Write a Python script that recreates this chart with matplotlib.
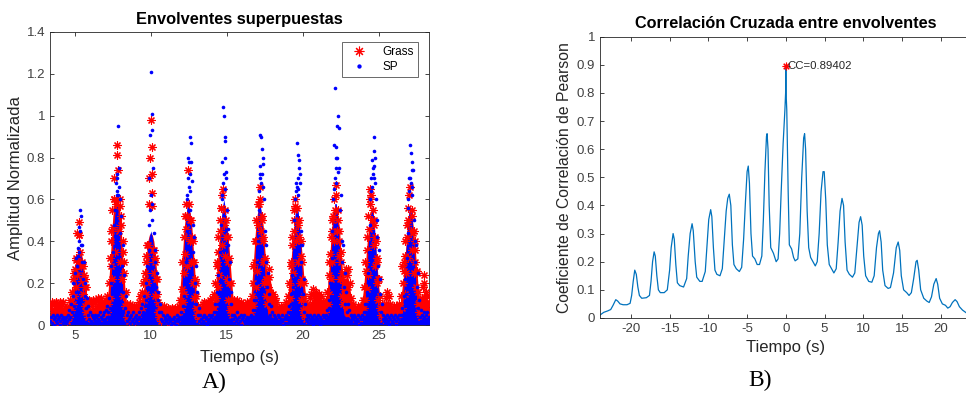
import numpy as np
import matplotlib.pyplot as plt

# envelope samples (x0.01), one row per second, starting at T0, FS samples/s
T0 = 3.40
FS = 20
grass_env = [
    9, 3, 11, 6, 10, 2, 8, 11, 5, 10, 7, 1, 11, 9, 4, 10, 6, 11, 3, 8,
    5, 8, 2, 6, 9, 4, 12, 7, 16, 10, 22, 14, 27, 18, 31, 24, 30, 43, 49, 35,
    28, 21, 30, 15, 24, 9, 18, 6, 12, 4, 9, 12, 5, 11, 3, 9, 12, 6, 11, 4,
    12, 8, 13, 5, 11, 9, 13, 3, 10, 7, 11, 4, 9, 12, 6, 14, 10, 20, 13, 28,
    40, 22, 47, 60, 70, 35, 58, 81, 86, 74, 45, 57, 30, 48, 22, 35, 14, 25, 9, 16,
    10, 4, 9, 2, 8, 10, 5, 9, 3, 7, 9, 2, 6, 9, 4, 8, 11, 6, 14, 9,
    16, 8, 20, 12, 25, 15, 33, 20, 38, 58, 70, 80, 98, 85, 63, 36, 25, 32, 14, 22,
    15, 6, 11, 4, 9, 7, 2, 8, 5, 9, 3, 7, 8, 2, 6, 8, 4, 7, 1, 6,
    8, 3, 7, 5, 8, 2, 6, 8, 4, 9, 6, 12, 8, 17, 11, 25, 15, 34, 46, 28,
    52, 74, 58, 40, 50, 30, 42, 20, 30, 13, 22, 8, 14, 5, 9, 3, 7, 8, 4, 7,
    10, 5, 11, 8, 3, 10, 7, 11, 4, 9, 12, 6, 10, 13, 7, 15, 10, 20, 13, 28,
    18, 35, 24, 45, 56, 38, 62, 65, 48, 55, 33, 42, 22, 30, 12, 20, 7, 12, 9, 5,
    10, 12, 6, 11, 3, 9, 12, 5, 10, 8, 11, 2, 8, 10, 5, 9, 3, 8, 11, 6,
    9, 4, 8, 11, 6, 14, 9, 20, 12, 30, 18, 40, 26, 48, 58, 60, 66, 45, 52, 30,
    40, 20, 32, 14, 22, 10, 18, 27, 23, 16, 8, 14, 6, 15, 10, 13, 5, 11, 8, 4,
    8, 3, 7, 9, 4, 8, 2, 7, 9, 5, 11, 7, 14, 10, 20, 13, 28, 18, 38, 25,
    45, 55, 60, 40, 56, 48, 30, 42, 20, 33, 12, 22, 7, 14, 5, 10, 3, 8, 10, 5,
    9, 13, 6, 15, 10, 17, 8, 14, 11, 16, 5, 13, 9, 15, 7, 12, 14, 4, 11, 8,
    10, 6, 12, 8, 16, 10, 24, 15, 34, 22, 45, 30, 52, 40, 55, 62, 67, 45, 50, 33,
    40, 22, 30, 14, 22, 10, 17, 20, 12, 27, 24, 18, 27, 12, 20, 8, 13, 5, 10, 7,
    4, 8, 3, 7, 9, 2, 6, 8, 4, 9, 6, 12, 8, 18, 12, 26, 17, 36, 24, 46,
    58, 65, 62, 50, 55, 38, 48, 28, 40, 20, 30, 12, 22, 8, 14, 5, 10, 7, 3, 8,
    6, 10, 13, 16, 9, 14, 5, 10, 7, 3, 8, 6, 9, 2, 7, 9, 4, 8, 10, 5,
    9, 14, 8, 28, 20, 26, 15, 33, 25, 42, 32, 50, 62, 66, 45, 55, 36, 44, 25, 40,
    30, 18, 25, 10, 16, 6, 12, 4, 9, 13, 18, 24, 20, 13, 16, 8, 14, 5, 11, 7,
]
sp_env = [
    2, 4, 1, 5, 3, 0, 4, 2, 5, 1, 3, 4, 0, 2, 5, 3, 1, 4, 2, 3,
    1, 4, 2, 5, 3, 7, 4, 10, 6, 14, 20, 9, 25, 32, 16, 28, 37, 35, 47, 55,
    52, 30, 38, 22, 30, 14, 20, 8, 13, 5, 9, 3, 6, 2, 5, 1, 4, 3, 5, 2,
    4, 1, 5, 3, 2, 6, 1, 4, 3, 5, 2, 6, 3, 7, 4, 9, 6, 13, 8, 20,
    28, 15, 35, 48, 25, 55, 40, 62, 72, 95, 75, 60, 44, 52, 28, 38, 16, 24, 8, 14,
    5, 2, 6, 3, 1, 4, 5, 2, 3, 6, 1, 4, 2, 5, 3, 1, 4, 6, 3, 8,
    5, 10, 6, 14, 9, 20, 12, 28, 18, 36, 70, 91, 121, 101, 93, 75, 44, 30, 36, 18,
    25, 12, 16, 6, 10, 3, 6, 2, 5, 1, 4, 3, 2, 5, 1, 3, 4, 2, 0, 3,
    1, 3, 1, 4, 2, 0, 3, 5, 2, 4, 1, 3, 6, 4, 9, 5, 14, 22, 30, 45,
    60, 80, 78, 55, 90, 87, 69, 48, 35, 42, 20, 28, 10, 16, 5, 8, 2, 5, 3, 1,
    4, 2, 5, 1, 3, 4, 0, 2, 5, 3, 1, 4, 2, 5, 3, 6, 4, 10, 6, 16,
    10, 24, 15, 35, 48, 60, 78, 104, 100, 90, 88, 73, 55, 38, 46, 22, 30, 10, 16, 5,
    3, 5, 1, 4, 2, 6, 3, 1, 4, 2, 5, 0, 3, 4, 2, 5, 1, 3, 4, 2,
    3, 1, 4, 2, 5, 3, 7, 4, 12, 7, 20, 12, 30, 40, 55, 72, 91, 90, 84, 80,
    77, 60, 45, 30, 38, 18, 25, 10, 15, 5, 9, 3, 6, 2, 5, 1, 4, 3, 2, 5,
    2, 4, 1, 3, 5, 2, 0, 3, 4, 1, 5, 3, 6, 4, 9, 6, 15, 10, 24, 18,
    35, 50, 60, 68, 87, 65, 81, 79, 72, 45, 30, 38, 15, 22, 6, 10, 3, 5, 2, 4,
    1, 3, 5, 2, 4, 0, 3, 5, 2, 4, 1, 3, 5, 2, 0, 4, 3, 1, 5, 2,
    4, 2, 5, 3, 7, 4, 12, 8, 20, 14, 32, 45, 60, 86, 113, 85, 80, 95, 100, 94,
    75, 55, 62, 40, 30, 38, 18, 25, 10, 16, 6, 10, 3, 7, 2, 5, 1, 4, 3, 5,
    2, 4, 1, 3, 5, 2, 0, 4, 3, 1, 5, 3, 6, 4, 10, 6, 16, 10, 25, 35,
    48, 60, 70, 79, 75, 90, 83, 80, 60, 42, 50, 28, 36, 15, 22, 6, 10, 3, 5, 2,
    4, 1, 3, 5, 2, 4, 0, 3, 5, 2, 1, 4, 3, 5, 2, 0, 4, 3, 1, 5,
    2, 5, 3, 8, 5, 14, 9, 22, 15, 32, 44, 56, 70, 86, 82, 78, 62, 74, 50, 40,
    30, 38, 18, 25, 8, 12, 4, 7, 2, 5, 3, 6, 4, 1, 5, 3, 6, 2, 4, 1,
]

# extra points on the flanks / upper part of each burst (time s, amplitude)
grass_extra_t = [4.9, 4.95, 5.05, 5.15, 5.3, 5.55, 5.65, 5.75,
                 7.3, 7.35, 7.45, 7.55, 7.95, 8.05, 8.15, 8.25,
                 9.6, 9.7, 9.75, 10.05, 10.1, 10.2, 10.3, 10.4,
                 12.05, 12.15, 12.25, 12.3, 12.65, 12.75, 12.85, 12.95,
                 14.35, 14.45, 14.55, 14.6, 14.95, 15.05, 15.15, 15.25,
                 16.75, 16.85, 16.95, 17.05, 17.3, 17.4, 17.5, 17.6,
                 19.2, 19.3, 19.4, 19.5, 19.75, 19.85, 19.95, 20.05,
                 21.75, 21.85, 21.95, 22.05, 22.3, 22.4, 22.5, 22.6,
                 24.1, 24.2, 24.3, 24.4, 24.65, 24.75, 24.85, 24.95,
                 26.65, 26.75, 26.85, 26.95, 27.2, 27.3, 27.4, 27.5]
grass_extra_v = [0.15, 0.25, 0.32, 0.44, 0.43, 0.28, 0.22, 0.18,
                 0.32, 0.45, 0.55, 0.6, 0.6, 0.52, 0.4, 0.3,
                 0.22, 0.3, 0.38, 0.72, 0.57, 0.36, 0.3, 0.22,
                 0.3, 0.42, 0.52, 0.58, 0.5, 0.4, 0.3, 0.2,
                 0.3, 0.42, 0.5, 0.56, 0.5, 0.42, 0.32, 0.2,
                 0.28, 0.4, 0.5, 0.58, 0.5, 0.42, 0.3, 0.22,
                 0.3, 0.42, 0.5, 0.57, 0.5, 0.4, 0.3, 0.2,
                 0.3, 0.42, 0.5, 0.6, 0.55, 0.45, 0.35, 0.25,
                 0.3, 0.42, 0.52, 0.6, 0.5, 0.42, 0.32, 0.22,
                 0.3, 0.4, 0.48, 0.56, 0.52, 0.45, 0.36, 0.26]
sp_extra_t = [5.2, 5.25, 5.35, 5.4,
              7.7, 7.75, 7.8, 7.85, 7.9,
              9.9, 9.95, 10.0, 10.05, 10.1,
              12.4, 12.45, 12.5, 12.55, 12.6, 12.65,
              14.7, 14.75, 14.8, 14.85, 14.9, 14.95,
              17.1, 17.15, 17.2, 17.25, 17.3, 17.35,
              19.55, 19.6, 19.65, 19.7, 19.75, 19.8,
              22.05, 22.1, 22.15, 22.2, 22.25, 22.3,
              24.5, 24.55, 24.6, 24.65, 24.7, 24.75,
              26.95, 27.0, 27.05, 27.1, 27.15, 27.2]
sp_extra_v = [0.33, 0.4, 0.45, 0.38,
              0.68, 0.64, 0.7, 0.62, 0.66,
              0.48, 0.55, 0.62, 0.5, 0.58,
              0.62, 0.7, 0.66, 0.72, 0.64, 0.78,
              0.62, 0.68, 0.72, 0.65, 0.8, 0.7,
              0.64, 0.7, 0.76, 0.68, 0.72, 0.66,
              0.64, 0.66, 0.62, 0.7, 0.75, 0.68,
              0.65, 0.7, 0.75, 0.68, 0.8, 0.73,
              0.64, 0.66, 0.72, 0.7, 0.76, 0.68,
              0.6, 0.64, 0.7, 0.68, 0.74, 0.66]

# top of the solid part of each point cloud (x0.01), every 0.1 s from T0
CORE_FS = 10
grass_core = [
    8, 9, 8, 9, 8, 9, 9, 8, 9, 8,
    8, 9, 10, 11, 13, 20, 27, 32, 35, 36,
    35, 32, 27, 20, 13, 9, 8, 8, 8, 9,
    10, 10, 10, 10, 9, 9, 10, 11, 17, 28,
    40, 52, 59, 62, 62, 59, 52, 40, 28, 17,
    11, 9, 8, 8, 8, 8, 8, 8, 9, 11,
    12, 14, 24, 33, 40, 43, 44, 43, 40, 33,
    24, 14, 9, 7, 7, 7, 7, 7, 7, 7,
    7, 7, 7, 7, 10, 15, 25, 36, 47, 53,
    56, 56, 53, 47, 36, 25, 15, 10, 8, 7,
    9, 9, 9, 9, 9, 9, 9, 10, 14, 22,
    32, 41, 49, 53, 54, 53, 49, 41, 32, 22,
    14, 10, 9, 9, 9, 9, 9, 9, 9, 9,
    9, 10, 15, 25, 36, 47, 53, 56, 56, 53,
    47, 36, 27, 24, 24, 20, 16, 13, 12, 11,
    9, 8, 8, 8, 8, 9, 13, 20, 29, 38,
    46, 51, 52, 51, 46, 38, 29, 20, 13, 10,
    10, 11, 12, 13, 13, 12, 12, 12, 11, 11,
    11, 12, 16, 25, 36, 47, 53, 56, 56, 53,
    47, 36, 27, 22, 22, 24, 22, 17, 13, 10,
    8, 8, 8, 8, 8, 12, 18, 27, 37, 45,
    50, 52, 50, 45, 37, 27, 18, 12, 9, 8,
    9, 11, 12, 10, 9, 8, 8, 8, 8, 9,
    10, 16, 22, 30, 40, 49, 53, 54, 51, 45,
    36, 26, 17, 12, 11, 14, 17, 15, 12, 10,
]
sp_core = [
    4, 4, 4, 4, 4, 4, 4, 4, 4, 4,
    4, 4, 4, 4, 5, 11, 20, 28, 33, 36,
    33, 28, 20, 11, 5, 4, 4, 4, 4, 4,
    4, 4, 4, 4, 4, 4, 4, 4, 5, 12,
    24, 38, 50, 58, 58, 50, 38, 24, 12, 5,
    4, 4, 4, 4, 4, 4, 4, 4, 4, 4,
    4, 5, 13, 25, 35, 42, 45, 42, 35, 25,
    13, 5, 4, 4, 4, 4, 4, 4, 4, 4,
    4, 4, 4, 4, 4, 5, 12, 24, 38, 50,
    58, 58, 50, 38, 24, 12, 5, 4, 4, 4,
    4, 4, 4, 4, 4, 4, 4, 4, 4, 7,
    18, 33, 47, 56, 60, 56, 47, 33, 18, 7,
    4, 4, 4, 4, 4, 4, 4, 4, 4, 4,
    4, 4, 5, 12, 24, 38, 50, 58, 58, 50,
    38, 24, 12, 5, 4, 4, 4, 4, 4, 4,
    4, 4, 4, 4, 4, 4, 4, 7, 17, 32,
    45, 54, 58, 54, 45, 32, 17, 7, 4, 4,
    4, 4, 4, 4, 4, 4, 4, 4, 4, 4,
    4, 4, 5, 12, 24, 38, 50, 58, 58, 50,
    38, 24, 12, 5, 4, 4, 4, 4, 4, 4,
    4, 4, 4, 4, 4, 4, 5, 12, 24, 37,
    49, 56, 56, 49, 37, 24, 12, 5, 4, 4,
    4, 4, 4, 4, 4, 4, 4, 4, 4, 4,
    4, 5, 12, 24, 37, 49, 56, 56, 49, 37,
    24, 12, 5, 4, 4, 4, 4, 4, 4, 4,
]

# cross correlation (lag in s, Pearson coefficient)
lags = [-24.0, -23.5, -23.0, -22.6, -22.3, -21.95, -21.7, -21.4, -21.0, -20.5,
        -20.1, -19.9, -19.7, -19.5, -19.3, -19.1, -18.9, -18.6, -18.0, -17.6,
        -17.4, -17.2, -17.0, -16.85, -16.65, -16.45, -16.2, -15.7, -15.3, -15.0,
        -14.8, -14.55, -14.4, -14.2, -14.0, -13.7, -13.2, -12.8, -12.6, -12.35,
        -12.1, -11.95, -11.7, -11.5, -11.1, -10.8, -10.4, -10.15, -9.95, -9.7,
        -9.55, -9.35, -9.15, -8.9, -8.5, -8.2, -7.95, -7.7, -7.5, -7.3,
        -7.1, -6.9, -6.7, -6.4, -6.0, -5.7, -5.45, -5.2, -5.0, -4.85,
        -4.7, -4.5, -4.3, -4.0, -3.7, -3.4, -3.1, -2.9, -2.7, -2.5,
        -2.42, -2.3, -2.15, -1.95, -1.6, -1.25, -1.0, -0.8, -0.6, -0.35,
        -0.12, -0.03, 0.0, 0.03, 0.12, 0.3, 0.45, 0.75, 1.0, 1.2,
        1.55, 1.8, 2.05, 2.3, 2.42, 2.55, 2.75, 2.95, 3.2, 3.5,
        3.8, 4.05, 4.3, 4.55, 4.8, 4.95, 5.15, 5.35, 5.6, 5.9,
        6.2, 6.5, 6.75, 7.0, 7.25, 7.45, 7.65, 7.9, 8.2, 8.6,
        8.9, 9.15, 9.45, 9.65, 9.85, 10.05, 10.3, 10.7, 11.1, 11.4,
        11.7, 11.95, 12.1, 12.3, 12.5, 12.8, 13.2, 13.5, 13.9, 14.25,
        14.5, 14.7, 14.9, 15.2, 15.6, 15.9, 16.2, 16.5, 16.8, 16.95,
        17.15, 17.4, 17.8, 18.2, 18.5, 18.8, 19.1, 19.4, 19.6, 19.85,
        20.2, 20.6, 20.9, 21.2, 21.5, 21.85, 22.1, 22.4, 22.8, 23.3, 24.0]
corr = [0.01, 0.02, 0.025, 0.03, 0.045, 0.065, 0.06, 0.05, 0.047, 0.047,
        0.052, 0.08, 0.13, 0.17, 0.155, 0.11, 0.08, 0.07, 0.072, 0.08,
        0.13, 0.2, 0.235, 0.22, 0.15, 0.1, 0.09, 0.09, 0.1, 0.17,
        0.25, 0.30, 0.28, 0.19, 0.125, 0.115, 0.11, 0.14, 0.22, 0.30,
        0.335, 0.31, 0.2, 0.145, 0.13, 0.13, 0.165, 0.27, 0.35, 0.385,
        0.36, 0.25, 0.17, 0.155, 0.15, 0.175, 0.28, 0.38, 0.425, 0.44,
        0.40, 0.26, 0.19, 0.175, 0.165, 0.18, 0.28, 0.42, 0.52, 0.54,
        0.48, 0.3, 0.22, 0.21, 0.19, 0.19, 0.22, 0.35, 0.52, 0.645,
        0.655, 0.6, 0.4, 0.25, 0.23, 0.2, 0.21, 0.3, 0.45, 0.62,
        0.74, 0.8, 0.894, 0.8, 0.74, 0.45, 0.26, 0.245, 0.215, 0.203,
        0.21, 0.3, 0.5, 0.64, 0.655, 0.6, 0.38, 0.25, 0.215, 0.2,
        0.185, 0.2, 0.3, 0.45, 0.52, 0.52, 0.42, 0.26, 0.19, 0.175,
        0.16, 0.175, 0.27, 0.38, 0.425, 0.4, 0.27, 0.17, 0.155, 0.145,
        0.16, 0.24, 0.34, 0.36, 0.33, 0.22, 0.15, 0.13, 0.127, 0.15,
        0.25, 0.3, 0.31, 0.27, 0.17, 0.115, 0.105, 0.108, 0.16, 0.25,
        0.27, 0.24, 0.15, 0.1, 0.09, 0.08, 0.09, 0.14, 0.2, 0.205,
        0.17, 0.1, 0.07, 0.06, 0.055, 0.075, 0.12, 0.14, 0.12, 0.07,
        0.05, 0.045, 0.035, 0.04, 0.055, 0.065, 0.058, 0.04, 0.028, 0.018, 0.01]
cc_max = 0.89402

plt.rcParams['font.family'] = ['Liberation Sans', 'DejaVu Sans']
plt.rcParams['axes.unicode_minus'] = False
AX_COL = '#262626'
ASTERISK = (8, 2, 0)
RED_STYLE = dict(linestyle='none', marker=ASTERISK, markersize=5.8, color='red',
                 markeredgewidth=0.8)
BLUE_STYLE = dict(linestyle='none', marker='o', markersize=2.6, color='blue',
                  markeredgewidth=0)

fig = plt.figure(figsize=(9.66, 3.94), dpi=100)

def style_axes(ax):
    for s in ax.spines.values():
        s.set_color(AX_COL)
        s.set_linewidth(0.6)
    ax.tick_params(direction='in', length=3, width=0.6, colors=AX_COL,
                   labelsize=9.5, top=True, right=True, labelcolor='#404040')

# A) envelopes
t = T0 + np.arange(len(grass_env)) / FS
tc = T0 + np.arange(len(grass_core)) / CORE_FS
ax1 = fig.add_axes([0.0518, 0.175, 0.3923, 0.744])
ax1.fill_between(tc, 0, np.array(grass_core) / 100, color='red', lw=0, zorder=1)
ax1.fill_between(tc, 0, np.array(sp_core) / 100, color='blue', lw=0, zorder=2)
ax1.plot(t, np.array(grass_env) / 100, label='Grass', zorder=3, **RED_STYLE)
ax1.plot(grass_extra_t, grass_extra_v, zorder=3, **RED_STYLE)
ax1.plot(t, np.array(sp_env) / 100, label='SP', zorder=4, **BLUE_STYLE)
ax1.plot(sp_extra_t, sp_extra_v, zorder=4, **BLUE_STYLE)
ax1.set_xlim(3.37, 28.3)
ax1.set_ylim(0, 1.4)
ax1.set_xticks([5, 10, 15, 20, 25])
ax1.set_yticks(np.arange(0, 1.41, 0.2))
ax1.set_yticklabels(['0', '0.2', '0.4', '0.6', '0.8', '1', '1.2', '1.4'])
style_axes(ax1)
ax1.set_title('Envolventes superpuestas', fontsize=11.8, fontweight='bold', pad=6)
ax1.set_xlabel('Tiempo (s)', fontsize=12, color='#262626', labelpad=6)
ax1.set_ylabel('Amplitud Normalizada', fontsize=12, color='#262626', labelpad=3)
leg = ax1.legend(loc='upper right', bbox_to_anchor=(0.971, 0.966), fontsize=8.5,
                 frameon=True, fancybox=False, edgecolor=AX_COL,
                 handlelength=2.2, handletextpad=0.9, borderpad=0.35,
                 labelspacing=0.25, markerscale=1.2, borderaxespad=0)
leg.get_frame().set_linewidth(0.6)
fig.text(0.222, 0.015, 'A)', fontsize=17, family='Liberation Serif', ha='center')

# B) cross correlation
ax2 = fig.add_axes([0.621, 0.193, 0.385, 0.714])
ax2.plot(lags, corr, color='#0072BD', linewidth=0.9)
ax2.plot([0], [cc_max], marker=ASTERISK, color='red', markersize=5.5,
         markeredgewidth=0.8, linestyle='none')
ax2.text(0.15, cc_max, 'CC=%.5f' % cc_max, fontsize=8.2, va='center', ha='left',
         color='#262626')
ax2.set_xlim(-24, 24)
ax2.set_ylim(0, 1)
ax2.set_xticks([-20, -15, -10, -5, 0, 5, 10, 15, 20])
ax2.set_yticks(np.arange(0, 1.01, 0.1))
ax2.set_yticklabels(['0', '0.1', '0.2', '0.3', '0.4', '0.5', '0.6', '0.7',
                     '0.8', '0.9', '1'])
style_axes(ax2)
ax2.set_title('Correlación Cruzada entre envolventes', fontsize=11.7,
              fontweight='bold', pad=6)
ax2.set_xlabel('Tiempo (s)', fontsize=12, color='#262626', labelpad=4)
ax2.set_ylabel('Coeficiente de Correlación de Pearson', fontsize=11.3,
               color='#262626', labelpad=3)
fig.text(0.787, 0.02, 'B)', fontsize=17, family='Liberation Serif', ha='center')

fig.savefig('out.png', dpi=100)
